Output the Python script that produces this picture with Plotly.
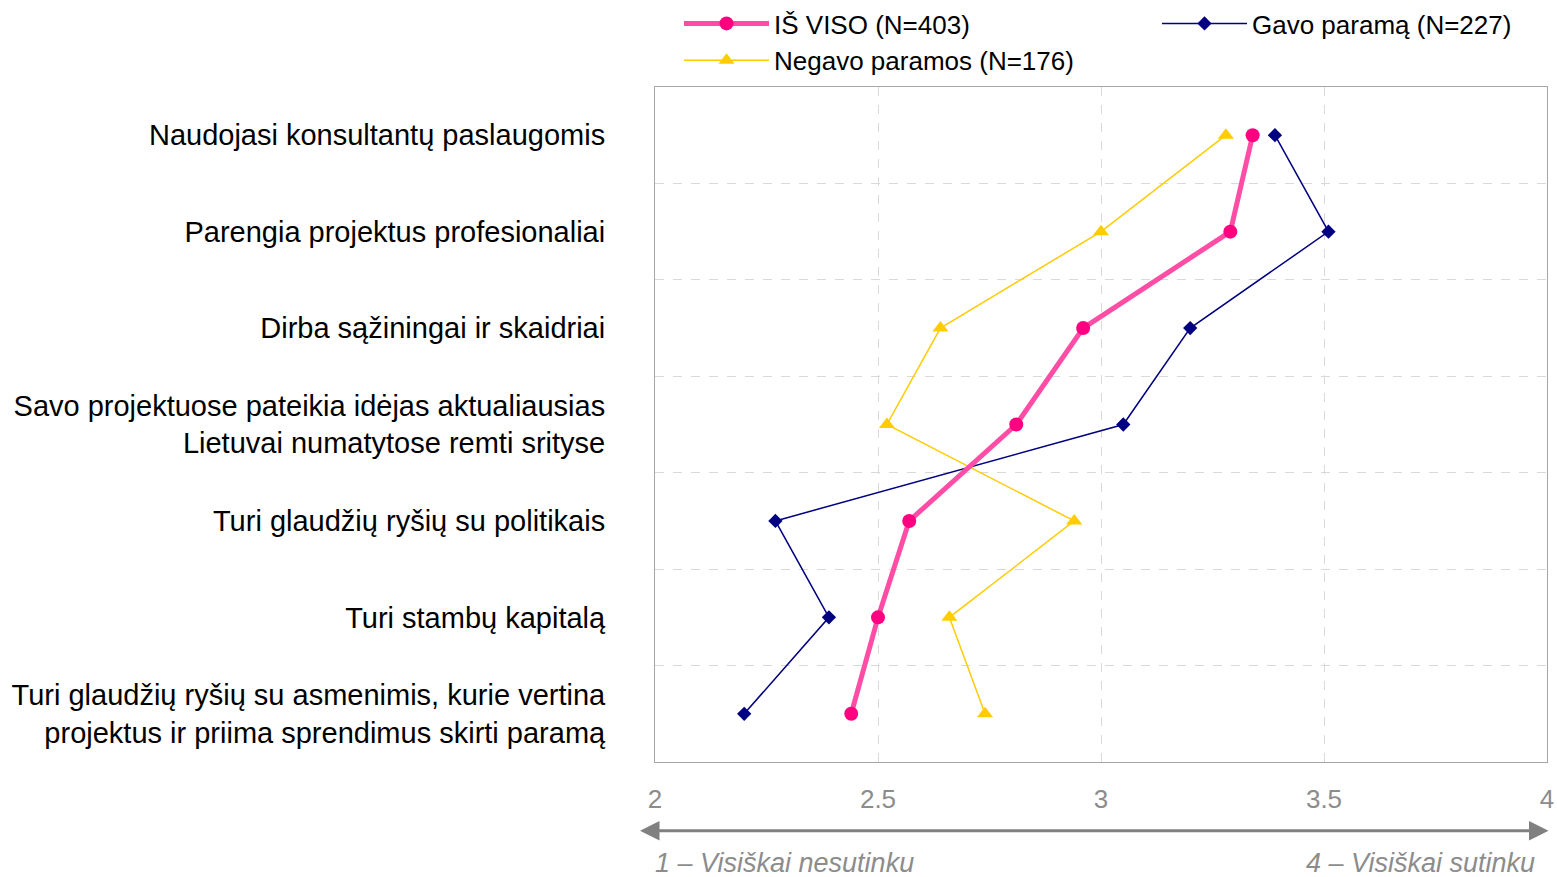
import plotly.graph_objects as go

categories = [
    "Naudojasi konsultantų paslaugomis",
    "Parengia projektus profesionaliai",
    "Dirba sąžiningai ir skaidriai",
    "Savo projektuose pateikia idėjas aktualiausias<br>Lietuvai numatytose remti srityse",
    "Turi glaudžių ryšių su politikais",
    "Turi stambų kapitalą",
    "Turi glaudžių ryšių su asmenimis, kurie vertina<br>projektus ir priima sprendimus skirti paramą",
]
total = [3.34, 3.29, 2.96, 2.81, 2.57, 2.50, 2.44]
received = [3.39, 3.51, 3.20, 3.05, 2.27, 2.39, 2.20]
not_received = [3.28, 3.00, 2.64, 2.52, 2.94, 2.66, 2.74]
x_ticks = [2, 2.5, 3, 3.5, 4]
series_names = ["IŠ VISO (N=403)", "Gavo paramą (N=227)", "Negavo paramos (N=176)"]

ypos = list(range(len(categories)))

fig = go.Figure()
fig.add_trace(go.Scatter(
    x=not_received, y=ypos, name=series_names[2], mode="lines+markers",
    line=dict(color="#FFCC00", width=1.5),
    marker=dict(symbol="triangle-up", size=14, color="#FFCC00"),
    legend="legend", legendrank=3,
))
fig.add_trace(go.Scatter(
    x=received, y=ypos, name=series_names[1], mode="lines+markers",
    line=dict(color="#000080", width=1.5),
    marker=dict(symbol="diamond", size=11, color="#000080"),
    legend="legend2", legendrank=2,
))
fig.add_trace(go.Scatter(
    x=total, y=ypos, name=series_names[0], mode="lines+markers",
    line=dict(color="#FF4DA6", width=5),
    marker=dict(symbol="circle", size=14, color="#FF0080"),
    legend="legend", legendrank=1,
))

W, H = 1557, 877
legend_common = dict(
    orientation="v", xref="container", yref="container",
    yanchor="top", xanchor="left", y=1.0,
    font=dict(size=26, color="black"), itemwidth=85,
    tracegroupgap=0, bgcolor="rgba(0,0,0,0)",
)

fig.update_layout(
    width=W, height=H,
    margin=dict(l=655, r=10, t=87, b=115, autoexpand=False),
    paper_bgcolor="white", plot_bgcolor="white",
    font=dict(family="Liberation Sans, Arial, sans-serif", color="black"),
    showlegend=True,
    legend=dict(x=679 / W, **legend_common),
    legend2=dict(x=1157 / W, **legend_common),
    xaxis=dict(
        range=[2, 4], tickvals=x_ticks, ticktext=[str(v) for v in x_ticks],
        showgrid=True, gridcolor="#D9D9D9", griddash="dash", gridwidth=1,
        showline=True, linecolor="#A6A6A6", linewidth=1, mirror=True,
        zeroline=False, ticks="", ticklabelstandoff=14,
        tickfont=dict(size=26, color="#8C8C8C"),
    ),
    yaxis=dict(
        range=[6.5, -0.5], tickvals=ypos, ticktext=categories,
        showgrid=False, zeroline=False,
        showline=True, linecolor="#A6A6A6", linewidth=1, mirror=True,
        ticks="", ticklabelstandoff=43,
        tickfont=dict(size=29, color="black"),
        minor=dict(tickvals=[i + 0.5 for i in ypos[:-1]], showgrid=True,
                   gridcolor="#D9D9D9", griddash="dash", gridwidth=1, ticks=""),
    ),
)

# double-headed arrow below axis
fig.add_annotation(
    xref="x domain", yref="y domain", axref="x domain", ayref="y domain",
    x=-0.0168, y=-0.102, ax=1.0034, ay=-0.102,
    showarrow=True, arrowside="end+start", arrowhead=2, arrowsize=1.3,
    arrowwidth=3, arrowcolor="#808080", text="",
)
fig.add_annotation(
    xref="x domain", yref="y domain", x=-0.002, y=-0.150, xanchor="left", yanchor="middle",
    text="<i>1 – Visiškai nesutinku</i>", showarrow=False,
    font=dict(size=27, color="#8C8C8C"),
)
fig.add_annotation(
    xref="x domain", yref="y domain", x=0.989, y=-0.150, xanchor="right", yanchor="middle",
    text="<i>4 – Visiškai sutinku</i>", showarrow=False,
    font=dict(size=27, color="#8C8C8C"),
)

fig.write_html(
    "out.html",
    config={"displayModeBar": False},
    post_script="document.body.style.margin='0';document.body.style.overflow='hidden';",
)
